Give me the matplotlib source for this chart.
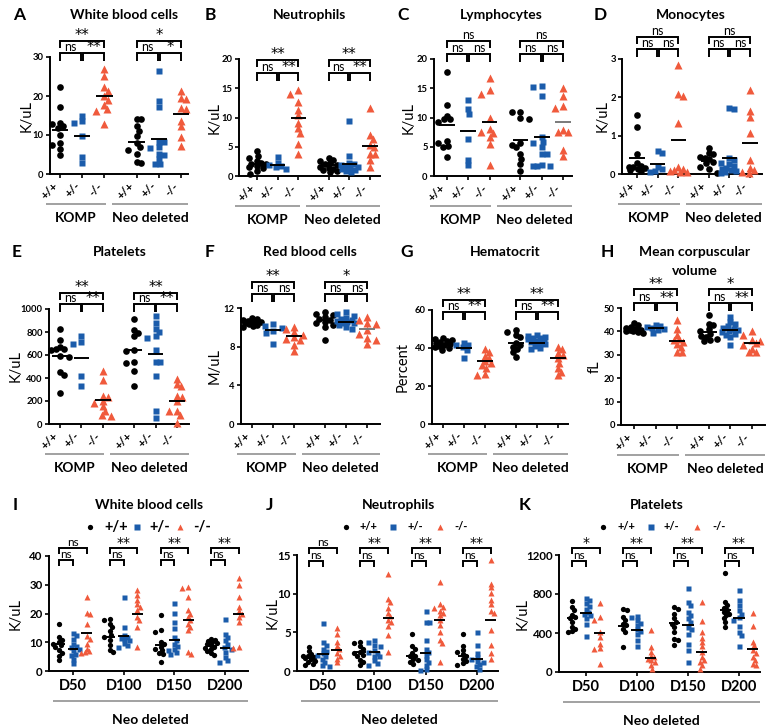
import numpy as np
import matplotlib
matplotlib.use('Agg')
import matplotlib.pyplot as plt
from matplotlib.transforms import blended_transform_factory, offset_copy

plt.rcParams['font.family'] = ['Lato', 'DejaVu Sans']

# ---------------- DATA ----------------
genotypes = ['+/+', '+/-', '-/-']
cohorts = ['KOMP', 'Neo deleted']
days = ['D50', 'D100', 'D150', 'D200']

# order in each panel: KOMP +/+, +/-, -/-, Neo +/+, +/-, -/-
A_vals = [[22.4, 17.3, 13.2, 12.8, 12.2, 11.9, 10.0, 7.9, 7.5, 6.3, 4.9],
          [15.0, 13.7, 13.2, 9.8, 4.3, 2.7],
          [27.0, 25.2, 22.3, 21.4, 19.9, 19.0, 17.7, 16.6, 16.2, 12.8],
          [14.1, 14.1, 12.2, 11.1, 9.8, 7.9, 7.0, 6.2, 5.1, 3.0, 2.9],
          [26.5, 18.6, 17.3, 8.3, 8.1, 7.0, 6.6, 5.1, 4.9, 3.8, 2.6, 2.6],
          [21.2, 19.5, 19.2, 16.9, 16.7, 13.7, 12.4, 9.4, 7.3]]
A_centers = [11.3, 9.7, 19.9, 8.3, 8.9, 15.3]
A_sig = ['ns', '**', '**', 'ns', '*', '*']

B_vals = [[4.2, 3.4, 3.0, 2.6, 2.3, 2.1, 2.0, 1.7, 1.5, 1.3, 0.8, 0.3],
          [3.2, 2.3, 1.8, 1.7, 1.5, 1.2],
          [14.7, 14.0, 12.7, 11.3, 10.4, 9.1, 8.2, 7.4, 5.5, 3.8],
          [3.0, 2.8, 2.5, 2.2, 2.0, 1.8, 1.6, 1.4, 1.2, 1.0, 0.8, 0.6],
          [9.4, 3.5, 2.2, 2.0, 1.8, 1.6, 1.5, 1.3, 1.2, 1.0, 0.8, 0.6],
          [11.6, 7.0, 6.4, 5.3, 5.0, 3.7, 3.7, 2.8, 1.5]]
B_centers = [2.1, 1.8, 9.9, 1.8, 2.1, 5.2]
B_sig = ['ns', '**', '**', 'ns', '**', '**']

C_vals = [[17.7, 12.1, 10.3, 9.7, 9.7, 9.3, 6.0, 5.6, 5.2, 5.0, 3.3],
          [13.0, 11.4, 10.6, 6.4, 2.7, 1.8],
          [16.7, 14.7, 14.0, 9.9, 8.0, 7.6, 7.4, 6.7, 5.4, 1.8],
          [11.0, 10.9, 9.9, 9.8, 5.7, 5.3, 5.0, 3.7, 2.9, 2.0, 0.9],
          [15.3, 15.2, 13.6, 6.6, 5.8, 5.7, 5.0, 3.7, 3.7, 1.8, 1.7, 1.7, 1.7],
          [15.1, 13.6, 12.0, 11.6, 7.8, 7.6, 7.6, 4.5, 3.4]]
C_centers = [8.8, 7.7, 9.2, 6.2, 6.6, 9.2]
C_sig = ['ns', 'ns', 'ns', 'ns', 'ns', 'ns']

D_vals = [[1.55, 1.23, 0.51, 0.28, 0.22, 0.19, 0.17, 0.15, 0.12, 0.10, 0.09],
          [0.60, 0.56, 0.19, 0.13, 0.09, 0.06],
          [2.84, 2.08, 2.04, 1.34, 0.17, 0.14, 0.10, 0.08, 0.06, 0.05],
          [0.68, 0.54, 0.51, 0.45, 0.43, 0.38, 0.32, 0.28, 0.19, 0.12, 0.03],
          [1.69, 1.71, 0.41, 0.36, 0.30, 0.25, 0.20, 0.15, 0.12, 0.10, 0.08, 0.05, 0.03],
          [2.18, 1.64, 1.49, 1.08, 0.36, 0.15, 0.10, 0.06, 0.03]]
D_centers = [0.43, 0.27, 0.90, 0.35, 0.41, 0.80]
D_sig = ['ns', 'ns', 'ns', 'ns', 'ns', 'ns']

E_vals = [[829, 733, 670, 655, 652, 640, 591, 583, 449, 429, 270],
          [762, 710, 696, 414, 328],
          [464, 386, 241, 232, 197, 183, 154, 116, 81, 67],
          [913, 820, 791, 768, 646, 632, 536, 530, 458, 328],
          [936, 878, 826, 797, 762, 748, 646, 539, 536, 414, 110, 52],
          [391, 348, 330, 241, 232, 197, 116, 110, 81, 9]]
E_centers = [594, 574, 212, 646, 612, 200]
E_sig = ['ns', '**', '**', 'ns', '**', '**']

F_vals = [[11.0, 10.9, 10.8, 10.7, 10.6, 10.5, 10.4, 10.3, 10.2, 10.1, 10.0],
          [10.3, 10.1, 9.9, 9.6, 9.4, 8.3],
          [10.0, 9.8, 9.5, 9.2, 9.0, 8.8, 8.7, 8.2, 7.6],
          [11.6, 11.4, 11.3, 11.1, 10.9, 10.8, 10.6, 10.4, 10.2, 10.0, 8.7],
          [11.6, 11.4, 11.2, 11.0, 10.9, 10.8, 10.7, 10.6, 10.5, 10.4, 10.2, 10.0, 9.8],
          [11.1, 10.8, 10.5, 10.3, 9.7, 9.3, 8.9, 8.7, 8.3]]
F_centers = [10.4, 9.7, 9.1, 10.8, 10.55, 9.8]
F_sig = ['ns', 'ns', '**', 'ns', 'ns', '*']

G_vals = [[45.1, 44.5, 44.0, 43.5, 43.0, 42.5, 42.0, 41.5, 41.0, 40.5, 40.0, 39.2],
          [42.8, 41.8, 41.4, 40.4, 39.0, 34.6],
          [39.3, 38.1, 35.8, 34.6, 33.0, 32.3, 31.1, 29.4, 26.4, 25.9],
          [49.5, 48.6, 46.9, 45.6, 42.8, 41.5, 40.7, 39.3, 38.1, 35.5],
          [47.0, 46.5, 46.0, 45.5, 45.0, 44.5, 44.0, 43.5, 43.0, 42.5, 42.0, 41.0, 40.0, 39.5],
          [40.7, 39.3, 37.2, 36.4, 34.5, 32.0, 29.4, 27.6, 25.9]]
G_centers = [41.6, 39.9, 32.9, 42.5, 42.8, 34.6]
G_sig = ['ns', '**', '**', 'ns', '**', '**']

H_vals = [[43.5, 42.6, 42.0, 41.5, 41.0, 40.8, 40.5, 40.2, 40.0, 39.6, 39.3],
          [42.8, 42.3, 41.8, 41.5, 41.0, 40.5, 39.5],
          [45.0, 41.0, 38.6, 36.7, 36.4, 35.5, 34.7, 33.3, 31.4, 31.0],
          [47.0, 43.3, 42.9, 41.0, 40.0, 39.0, 38.0, 37.6, 36.8, 36.4, 35.7],
          [46.1, 43.9, 43.0, 42.1, 41.5, 41.0, 40.7, 40.2, 39.7, 39.0, 38.6, 37.6, 34.3],
          [40.3, 38.6, 36.4, 35.7, 35.0, 34.3, 32.6, 31.4, 31.0]]
H_centers = [41.1, 41.4, 36.1, 39.6, 40.7, 35.0]
H_sig = ['ns', '**', '**', 'ns', '**', '*']

# time course, order: D50 (+/+, +/-, -/-), D100 (...), D150 (...), D200 (...)
I_vals = [[16.3, 11.9, 10.9, 10.1, 9.5, 9.0, 8.4, 7.2, 6.3, 5.2, 3.7],
          [13.3, 12.4, 11.3, 9.5, 8.7, 8.4, 7.8, 7.2, 6.0, 5.5, 4.3, 2.8],
          [25.8, 20.2, 19.8, 16.3, 12.1, 11.3, 9.5, 7.8, 6.9, 6.6, 6.3],
          [18.0, 17.7, 16.5, 15.3, 13.8, 12.5, 11.9, 10.7, 9.2, 7.4, 6.6],
          [25.6, 15.3, 12.4, 11.9, 11.6, 11.3, 10.7, 9.8, 9.0, 8.4],
          [28.1, 26.4, 24.7, 23.3, 22.3, 21.2, 18.8, 17.7, 15.3, 8.4],
          [19.4, 14.2, 13.6, 10.1, 9.3, 8.4, 7.8, 7.2, 6.3, 5.8, 3.1],
          [23.7, 20.2, 17.1, 14.8, 11.9, 10.7, 9.5, 8.7, 7.8, 7.2, 6.6, 6.0],
          [29.3, 28.7, 25.8, 21.2, 20.0, 18.8, 17.7, 16.5, 15.3, 14.2, 6.6, 5.8],
          [11.3, 10.9, 10.5, 10.1, 9.7, 9.3, 8.9, 8.5, 8.1, 7.6, 7.0, 6.2, 5.4],
          [18.2, 13.0, 11.9, 10.7, 9.5, 8.4, 7.8, 6.6, 4.9, 3.7, 3.1],
          [32.2, 29.9, 25.8, 22.3, 20.8, 20.0, 18.8, 17.1, 8.4, 8.1]]
I_centers = [9.5, 7.8, 13.3, 11.9, 12.2, 20.0, 9.0, 10.7, 17.6, 8.8, 8.0, 20.0]
I_sig_inner = ['ns', 'ns', 'ns', 'ns']
I_sig_outer = ['ns', '**', '**', '**']

J_vals = [[3.1, 2.6, 2.2, 2.0, 1.9, 1.8, 1.7, 1.5, 1.3, 1.1, 0.9, 0.8],
          [6.2, 3.7, 3.4, 2.9, 2.6, 2.3, 2.1, 1.9, 1.6, 1.2, 0.8, 0.6],
          [5.6, 4.8, 3.7, 3.2, 2.8, 2.3, 2.0, 1.6, 1.1],
          [3.8, 3.6, 3.2, 2.9, 2.5, 2.3, 2.1, 1.9, 1.4, 1.1, 0.8],
          [4.0, 3.8, 3.4, 3.2, 2.7, 2.5, 2.3, 2.0, 1.9, 1.4, 1.0, 0.8],
          [12.6, 9.3, 8.9, 8.1, 7.5, 7.1, 6.6, 6.3, 5.8, 4.7, 2.4],
          [4.8, 3.2, 2.9, 2.3, 2.0, 1.9, 1.6, 1.4, 1.2, 0.9],
          [7.8, 6.4, 6.3, 4.0, 2.9, 2.5, 2.1, 1.6, 1.2, 0.8, 0.3, 0.1],
          [11.5, 8.6, 8.3, 8.1, 7.8, 7.5, 7.2, 6.6, 6.0, 5.0, 4.0, 3.6, 1.2],
          [4.8, 3.2, 2.7, 2.5, 2.2, 1.9, 1.6, 1.3, 1.0, 0.8],
          [5.0, 3.4, 2.3, 1.8, 1.6, 1.3, 1.1, 0.9, 0.6, 0.3],
          [14.4, 11.3, 10.8, 10.1, 9.2, 8.6, 7.8, 7.5, 5.3, 3.4, 2.3, 1.6]]
J_centers = [1.7, 2.2, 2.7, 2.4, 2.4, 6.8, 2.0, 2.3, 6.6, 1.9, 1.6, 6.6]
J_sig_inner = ['ns', 'ns', 'ns', 'ns']
J_sig_outer = ['ns', '**', '**', '**']

K_vals = [[730, 669, 634, 583, 560, 549, 514, 463, 439, 422, 410],
          [754, 737, 703, 680, 651, 617, 600, 583, 549, 497, 367],
          [703, 566, 538, 411, 360, 291, 250, 240, 86],
          [651, 640, 566, 531, 497, 480, 446, 411, 257],
          [570, 560, 531, 505, 480, 440, 420, 394, 326, 264],
          [435, 257, 206, 161, 150, 137, 120, 103, 69, 34],
          [662, 651, 600, 549, 514, 497, 463, 411, 343, 326, 274],
          [857, 720, 686, 617, 583, 549, 514, 463, 440, 394, 291, 223, 103],
          [720, 521, 411, 350, 309, 264, 206, 154, 120, 103, 69, 34],
          [1011, 720, 686, 660, 634, 617, 600, 583, 549, 514, 463],
          [840, 737, 686, 634, 600, 560, 531, 473, 411, 377, 264],
          [607, 470, 309, 274, 223, 200, 154, 120, 86, 69]]
K_centers = [555, 607, 401, 470, 435, 144, 504, 480, 206, 634, 555, 240]
K_sig_inner = ['ns', 'ns', 'ns', 'ns']
K_sig_outer = ['*', '**', '**', '**']

# ---------------- STYLE / LAYOUT ----------------
W, H = 777, 727
fig = plt.figure(figsize=(W / 100, H / 100), dpi=100)
fig.patch.set_facecolor('white')

COLORS = ['#000000', '#1b5cab', '#f05a3c']
MARKERS = ['o', 's', '^']
UNDERLINE = '#9a9a9a'

ov = fig.add_axes([0, 0, 1, 1])
ov.set_xlim(0, W)
ov.set_ylim(H, 0)
ov.axis('off')


def swarm(ypx, d, cap):
    ypx = np.asarray(ypx, float)
    xs = np.zeros(len(ypx))
    placed = []
    for i in np.argsort(-ypx, kind='stable'):
        y = ypx[i]
        cands = [0.0]
        for (px, py) in placed:
            dy = abs(y - py)
            if dy < d:
                dx = np.sqrt(d * d - dy * dy)
                cands += [px + dx, px - dx]
        cands = sorted(set(np.round(cands, 6)), key=lambda c: (abs(c), -c))
        chosen = None
        for c in cands:
            if abs(c) > cap + 1e-9:
                continue
            if all((c - px) ** 2 + (y - py) ** 2 >= d * d - 1e-6 for px, py in placed):
                chosen = c
                break
        if chosen is None:
            grid = np.linspace(-cap, cap, 13)
            chosen = max(grid, key=lambda c: min((c - px) ** 2 + (y - py) ** 2 for px, py in placed))
        xs[i] = chosen
        placed.append((chosen, y))
    return xs


def make_axes(box, xlim, ytop):
    l, t, r, b = box
    ax = fig.add_axes([l / W, 1 - b / H, (r - l) / W, (b - t) / H])
    ax.set_xlim(*xlim)
    ax.set_ylim(0, ytop)
    for s in ['top', 'right']:
        ax.spines[s].set_visible(False)
    for s in ['left', 'bottom']:
        ax.spines[s].set_linewidth(1.4)
    ax.patch.set_alpha(0)
    ax.tick_params(width=1.2, length=3, pad=1.5)
    return ax


def draw_points(ax, pos, vals, centers, ppx, ppy, msize, d, cap, half, line_colors):
    for k, (p, v, c) in enumerate(zip(pos, vals, centers)):
        gi = k % 3
        xo = swarm(np.asarray(v) * ppy, d, cap) / ppx
        ax.plot(p + xo, v, ls='none', marker=MARKERS[gi], ms=msize[gi],
                mfc=COLORS[gi], mec='none', clip_on=False, zorder=3)
        ax.plot([p - half, p + half], [c, c], color=line_colors[k], lw=1.4,
                zorder=4, solid_capstyle='butt', clip_on=False)


def bracket(ax, xa, xb, y, leg_px, ppy, text, fs):
    leg = leg_px / ppy
    ax.plot([xa, xa, xb, xb], [y - leg, y, y, y - leg], color='k', lw=1.4,
            clip_on=False, solid_joinstyle='miter', solid_capstyle='butt', zorder=5)
    if '*' in text:
        ax.annotate(text, xy=((xa + xb) / 2, y), xytext=(0, 0.5), textcoords='offset points',
                    ha='center', va='baseline', fontsize=fs + 1.5, family='DejaVu Sans',
                    annotation_clip=False)
    else:
        ax.annotate(text, xy=((xa + xb) / 2, y), xytext=(0, 1.5), textcoords='offset points',
                    ha='center', va='baseline', fontsize=fs, annotation_clip=False)


top_panels = [
    dict(letter='A', title=['White blood cells'], vals=A_vals, centers=A_centers, sig=A_sig,
         ylabel='K/uL', yticks=[0, 10, 20, 30], box=(50, 57, 188, 174), pts=(60, 181),
         br=(31.0, 34.1), yoff=23, tx=124, lx=19, ty=15, gray=[]),
    dict(letter='B', title=['Neutrophils'], vals=B_vals, centers=B_centers, sig=B_sig,
         ylabel='K/uL', yticks=[0, 5, 10, 15, 20], box=(239, 59, 380, 176), pts=(257, 370),
         br=(17.6, 19.8), yoff=24, tx=310, lx=210, ty=15, gray=[]),
    dict(letter='C', title=['Lymphocytes'], vals=C_vals, centers=C_centers, sig=C_sig,
         ylabel='K/uL', yticks=[0, 5, 10, 15, 20], box=(434, 59, 572, 176), pts=(447, 563),
         br=(20.9, 23.1), yoff=25, tx=501, lx=403, ty=15, gray=[5]),
    dict(letter='D', title=['Monocytes'], vals=D_vals, centers=D_centers, sig=D_sig,
         ylabel='K/uL', yticks=[0, 1, 2, 3], box=(622, 59, 762, 174), pts=(637, 750),
         br=(3.26, 3.58), yoff=19, tx=691, lx=600, ty=15, gray=[]),
    dict(letter='E', title=['Platelets'], vals=E_vals, centers=E_centers, sig=E_sig,
         ylabel='K/uL', yticks=[0, 200, 400, 600, 800, 1000], box=(49, 309, 189, 424), pts=(60, 177),
         br=(1043, 1139), yoff=33, tx=120, lx=17, ty=252, gray=[]),
    dict(letter='F', title=['Red blood cells'], vals=F_vals, centers=F_centers, sig=F_sig,
         ylabel='M/uL', yticks=[0, 4, 8, 12], box=(241, 308, 380, 424), pts=(252, 367),
         br=(13.4, 14.7), yoff=26, tx=310, lx=210, ty=252, gray=[5]),
    dict(letter='G', title=['Hematocrit'], vals=G_vals, centers=G_centers, sig=G_sig,
         ylabel='Percent', yticks=[0, 20, 40, 60], box=(432, 310, 568, 424), pts=(443, 558),
         br=(59.0, 65.3), yoff=29, tx=505, lx=407, ty=252, gray=[]),
    dict(letter='H', title=['Mean corpuscular', 'volume'], vals=H_vals, centers=H_centers, sig=H_sig,
         ylabel='fL', yticks=[0, 10, 20, 30, 40, 50], box=(621, 308, 765, 425), pts=(634, 752),
         br=(52.0, 58.0), yoff=26, tx=695, lx=607, ty=252, gray=[]),
]

G_OFF = 3.45
for P in top_panels:
    l, t, r, b = P['box']
    pos = [0, 1, 2, G_OFF, G_OFF + 1, G_OFF + 2]
    first, last = P['pts']
    unit = (last - first) / (G_OFF + 2)
    x0 = -(first - l) / unit
    x1 = G_OFF + 2 + (r - last) / unit
    ytop = P['yticks'][-1]
    ax = make_axes(P['box'], (x0, x1), ytop)
    ppy = (b - t) / ytop
    lc = ['#7a7a7a' if k in P['gray'] else 'k' for k in range(6)]
    draw_points(ax, pos, P['vals'], P['centers'], unit, ppy,
                msize=[4.8, 4.5, 5.2], d=4.8, cap=8.5, half=0.37, line_colors=lc)
    ax.set_yticks(P['yticks'])
    ax.set_yticklabels([str(v) for v in P['yticks']], fontsize=6.8, fontweight='bold')
    ax.set_xticks(pos)
    ax.set_xticklabels(genotypes * 2, rotation=45, ha='right', fontsize=8.5, fontweight='bold')
    ax.set_ylabel(P['ylabel'], fontsize=10.5, va='center')
    ax.yaxis.set_label_coords(-P['yoff'] / (r - l), 0.5)
    inner, outer = P['br']
    for ci, base in enumerate([0, G_OFF]):
        s01, s12, s02 = P['sig'][3 * ci:3 * ci + 3]
        bracket(ax, base, base + 0.96, inner, 8, ppy, s01, 9)
        bracket(ax, base + 1.04, base + 2, inner, 8, ppy, s12, 9)
        bracket(ax, base, base + 2, outer, 7, ppy, s02, 9)
    # cohort underlines and labels
    bt = blended_transform_factory(ax.transData, ax.transAxes)
    tl = offset_copy(bt, fig=fig, x=0, y=-30, units='dots')
    tt = offset_copy(bt, fig=fig, x=0, y=-44, units='dots')
    seg = [(x0 - 4 / unit, 2.07), (2.35, x1)]
    for (sa, sb), name in zip(seg, cohorts):
        ax.plot([sa, sb], [0, 0], transform=tl, color=UNDERLINE, lw=1.3, clip_on=False,
                solid_capstyle='butt')
        ax.text((sa + sb) / 2, 0, name, transform=tt, ha='center', va='center',
                fontsize=10 if name != 'KOMP' else 9.8, fontweight='bold')
    ov.text(P['lx'], P['ty'], P['letter'], fontsize=12.5, fontweight='bold', ha='center', va='center')
    for li, line in enumerate(P['title']):
        ov.text(P['tx'], P['ty'] + 19 * li, line, fontsize=10, fontweight='bold',
                ha='center', va='center')

bottom_panels = [
    dict(letter='I', title='White blood cells', vals=I_vals, centers=I_centers,
         sin=I_sig_inner, sout=I_sig_outer, yticks=[0, 10, 20, 30, 40],
         box=(49, 556, 248, 671), cpx=(73, 225), br=(38.6, 42.8), yoff=33, tx=149, lx=15,
         legm=(90, 137, 180), legt=(104, 149, 193), legfs=10.5),
    dict(letter='J', title='Neutrophils', vals=J_vals, centers=J_centers,
         sin=J_sig_inner, sout=J_sig_outer, yticks=[0, 5, 10, 15],
         box=(297, 555, 498, 671), cpx=(323, 477), br=(14.2, 15.9), yoff=24, tx=399, lx=270,
         legm=(346, 393, 440), legt=(360, 407, 454), legfs=8),
    dict(letter='K', title='Platelets', vals=K_vals, centers=K_centers,
         sin=K_sig_inner, sout=K_sig_outer, yticks=[0, 400, 800, 1200],
         box=(559, 555, 760, 672), cpx=(586, 739), br=(1138, 1272), yoff=36, tx=657, lx=525,
         legm=(603, 651, 697), legt=(617, 664, 712), legfs=8),
]

DAY_STEP = 3.7
for P in bottom_panels:
    l, t, r, b = P['box']
    cen = [DAY_STEP * i for i in range(4)]
    first, last = P['cpx']
    unit = (last - first) / cen[-1]
    x0 = -(first - l) / unit
    x1 = cen[-1] + (r - last) / unit
    ytop = P['yticks'][-1]
    ax = make_axes(P['box'], (x0, x1), ytop)
    ppy = (b - t) / ytop
    pos = [c + o for c in cen for o in (-1, 0, 1)]
    draw_points(ax, pos, P['vals'], P['centers'], unit, ppy,
                msize=[3.8, 3.6, 4.3], d=3.8, cap=6.0, half=0.4, line_colors=['k'] * 12)
    ax.set_yticks(P['yticks'])
    ax.set_yticklabels([str(v) for v in P['yticks']], fontsize=8.3, fontweight='bold')
    ax.set_xticks(cen)
    ax.set_xticklabels(days, fontsize=10.5, fontweight='bold')
    ax.tick_params(axis='x', pad=3)
    ax.set_ylabel('K/uL', fontsize=10.5, va='center')
    ax.yaxis.set_label_coords(-P['yoff'] / (r - l), 0.5)
    inner, outer = P['br']
    for i, c in enumerate(cen):
        bracket(ax, c - 1, c, inner, 6, ppy, P['sin'][i], 8.5)
        bracket(ax, c - 1, c + 1, outer, 6, ppy, P['sout'][i], 8.5)
    bt = blended_transform_factory(ax.transData, ax.transAxes)
    tl = offset_copy(bt, fig=fig, x=0, y=-30, units='dots')
    tt = offset_copy(bt, fig=fig, x=0, y=-49, units='dots')
    sa, sb = x0 + 4 / unit, x1
    ax.plot([sa, sb], [0, 0], transform=tl, color=UNDERLINE, lw=1.3, clip_on=False,
            solid_capstyle='butt')
    ax.text((sa + sb) / 2, 0, cohorts[1], transform=tt, ha='center', va='center',
            fontsize=10, fontweight='bold')
    ov.text(P['lx'], 505, P['letter'], fontsize=12.5, fontweight='bold', ha='center', va='center')
    ov.text(P['tx'], 505, P['title'], fontsize=10, fontweight='bold', ha='center', va='center')
    for gi in range(3):
        ov.plot([P['legm'][gi]], [527], ls='none', marker=MARKERS[gi], ms=3.8,
                mfc=COLORS[gi], mec='none')
        ov.text(P['legt'][gi], 527, genotypes[gi], fontsize=P['legfs'], fontweight='bold',
                ha='left', va='center')

fig.savefig('out.png', dpi=100, facecolor='white')
